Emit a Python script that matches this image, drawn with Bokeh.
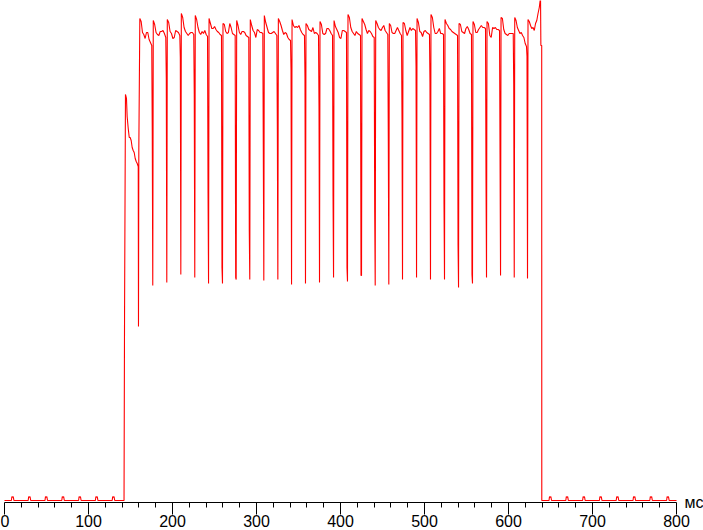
import numpy as np
from bokeh.plotting import figure
from bokeh.models import Range1d, FixedTicker, Label
from bokeh.embed import file_html
from bokeh.resources import INLINE

# ---- axis ----
major_ticks = [0, 100, 200, 300, 400, 500, 600, 700, 800]
minor_ticks = [20, 40, 60, 80, 120, 140, 160, 180, 220, 240, 260, 280,
               320, 340, 360, 380, 420, 440, 460, 480, 520, 540, 560, 580,
               620, 640, 660, 680, 720, 740, 760, 780]
x_unit = "мс"

# ---- baseline pulses (ms) and pulse shape ----
pulse_t = [10, 30, 50, 70, 90, 110, 130, 650, 670, 690, 710, 730, 750, 770, 790]
pulse_dt = [-1.8, -1.2, -0.2, 0.4, 1.2]
pulse_v = [0, 4, 3, 4, 0]

# ---- initial ramp ----
ramp_t = [142.3, 142.9, 144.0, 145.2, 146.0, 147.3, 148.5, 149.6, 150.8, 152.0,
          153.2, 154.4, 155.6, 156.8, 158.0, 159.2, 159.5, 159.9]
ramp_v = [0, 184, 406, 402, 384, 372, 363, 363, 360, 353,
          350, 348, 342, 339, 337, 334, 174, 350]

top_start = 161.1

# ---- refresh dips ----
dip_t = [176.5, 193.2, 209.9, 226.5, 242.9, 259.5, 275.8, 292.0, 308.7, 325.4,
         341.7, 358.3, 375.0, 391.7, 408.3, 425.0, 441.3, 457.5, 473.8, 490.5,
         507.1, 523.8, 540.5, 557.1, 573.8, 590.5, 606.8, 622.6]
dip_mid = [369, 422, 443, 406, 308, 233, 223, 270, 349, 372,
           430, 423, 394, 305, 233, 225, 289, 360, 383, 434,
           418, 297, 256, 226, 321, 347, 416, 444]
dip_low = [215, 218, 226, 223, 217, 217, 221, 221, 220, 221,
           216, 217, 218, 223, 219, 225, 215, 216, 221, 223,
           221, 221, 213, 217, 223, 225, 223, 222]

# ---- plateau levels between dips ----
top_v = [
    [482, 479, 468, 466, 462, 468, 468, 461, 458, 455],
    [480, 476, 468, 466, 465, 469, 469, 470, 467, 463],
    [481, 478, 469, 467, 462, 463, 470, 469, 468, 465],
    [487, 483, 473, 469, 467, 465, 467, 468, 468, 466],
    [485, 481, 473, 468, 466, 469, 467, 470, 466, 464],
    [482, 477, 472, 472, 474, 471, 469, 468, 466, 465],
    [477, 476, 469, 467, 468, 477, 473, 467, 466, 465],
    [480, 475, 468, 466, 469, 469, 468, 465, 464, 463],
    [481, 475, 470, 468, 463, 471, 470, 468, 468, 467],
    [485, 478, 473, 468, 467, 467, 468, 469, 467, 465],
    [482, 479, 475, 470, 466, 468, 467, 463, 461, 460],
    [481, 475, 473, 474, 473, 475, 471, 468, 466, 465],
    [477, 475, 471, 470, 469, 473, 467, 468, 467, 465],
    [479, 476, 467, 466, 467, 472, 472, 470, 467, 465],
    [480, 474, 471, 468, 463, 462, 470, 470, 469, 468],
    [486, 483, 473, 469, 467, 465, 469, 467, 466, 465],
    [482, 479, 476, 471, 467, 470, 469, 467, 464, 463],
    [480, 477, 473, 471, 470, 473, 475, 470, 468, 466],
    [477, 475, 468, 467, 467, 470, 473, 470, 467, 465],
    [478, 477, 470, 465, 469, 473, 470, 472, 471, 470],
    [482, 478, 469, 468, 464, 469, 470, 468, 467, 466],
    [486, 483, 473, 467, 467, 469, 472, 467, 467, 466],
    [481, 477, 475, 472, 471, 469, 468, 467, 466, 465],
    [477, 476, 469, 468, 467, 472, 474, 471, 467, 466],
    [479, 476, 468, 468, 471, 473, 475, 473, 473, 472],
    [479, 477, 465, 463, 473, 472, 473, 471, 471, 470],
    [483, 482, 471, 467, 466, 465, 467, 467, 467, 467],
    [483, 480, 473, 470, 467, 468, 465, 463, 457, 454],
    [481, 479, 475, 472, 473, 470, 477, 480, 487, 493, 503],
]
final_top_end = 638.1
end_t = [638.5, 639.5, 639.6]
end_v = [455, 455, 0]

# ---- assemble the trace ----
xs, ys = [0.0], [0.0]


def add_pulses(lo, hi):
    for t in pulse_t:
        if lo < t < hi:
            for dt, v in zip(pulse_dt, pulse_v):
                xs.append(t + dt)
                ys.append(v)


add_pulses(0, ramp_t[0])
xs.extend(ramp_t)
ys.extend(ramp_v)
for i, d in enumerate(dip_t):
    start = top_start if i == 0 else dip_t[i - 1] + 0.6
    vals = top_v[i]
    xs.extend(np.linspace(start, d - 1.2, len(vals)).tolist())
    ys.extend(vals)
    xs.extend([d - 0.6, d])
    ys.extend([dip_mid[i], dip_low[i]])
vals = top_v[-1]
xs.extend(np.linspace(dip_t[-1] + 0.6, final_top_end, len(vals)).tolist())
ys.extend(vals)
xs.extend(end_t)
ys.extend(end_v)
add_pulses(end_t[-1], 800)
xs.append(800.0)
ys.append(0.0)

# ---- figure ----
p = figure(width=703, height=530, output_backend="svg", toolbar_location=None,
           x_range=Range1d(-4.76, 832.1), y_range=Range1d(-30, 500),
           min_border_left=0, min_border_right=0, min_border_top=0,
           min_border_bottom=0, y_axis_location=None,
           outline_line_color=None, background_fill_color="white",
           border_fill_color="white")
p.grid.visible = False

p.line(xs, ys, line_color="#ff0000", line_width=1.1)

ax = p.xaxis[0]
ax.fixed_location = -2
ax.bounds = (0, 800)
ax.ticker = FixedTicker(ticks=major_ticks, minor_ticks=minor_ticks)
ax.axis_line_color = "black"
ax.axis_line_width = 1
ax.major_tick_line_color = "black"
ax.minor_tick_line_color = "black"
ax.major_tick_out = 12
ax.major_tick_in = 0
ax.minor_tick_out = 5
ax.minor_tick_in = 0
ax.major_label_standoff = 0
ax.major_label_text_font = "Liberation Sans"
ax.major_label_text_font_size = "16px"
ax.major_label_text_color = "black"

p.add_layout(Label(x=800, y=-2, text=x_unit, x_offset=8, y_offset=0,
                   text_baseline="middle", text_align="left",
                   text_font="Liberation Sans", text_font_size="16px",
                   text_color="black"))

open("out.html", "w").write(file_html(p, INLINE))
